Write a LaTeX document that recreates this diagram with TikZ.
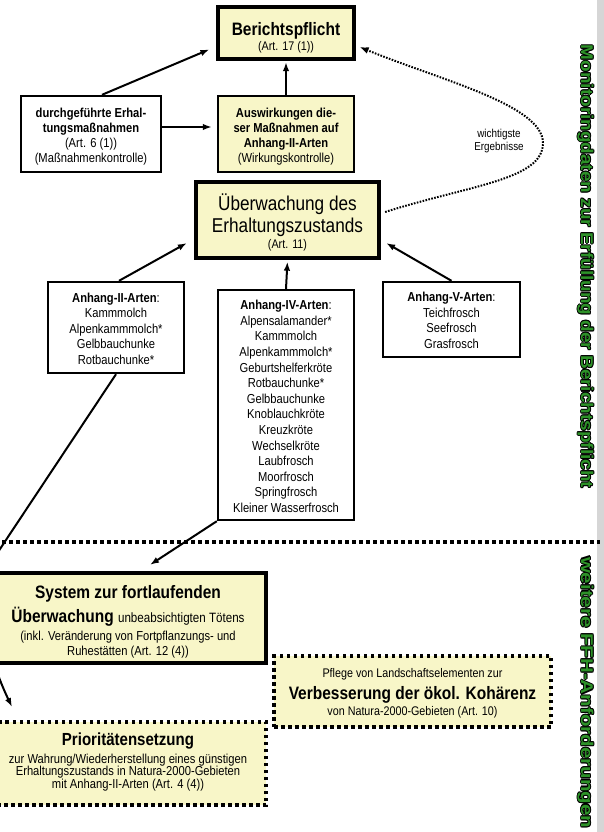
\documentclass[tikz,border=0pt]{standalone}
\usepackage{fontspec}
\usepackage{graphicx}
\setmainfont{Liberation Sans}[FakeStretch=0.86]
\newfontfamily\sidefont{Liberation Sans}
\usetikzlibrary{arrows.meta}
\definecolor{boxyellow}{RGB}{248,246,200}
\definecolor{sidegreen}{RGB}{45,145,40}
\definecolor{stripgrey}{RGB}{214,214,214}
\newcommand\fs[1]{\fontsize{#1}{0pt}\selectfont}
\newcommand\nodefont[1]{\fontsize{#1}{0pt}\selectfont\lineskiplimit=-1000pt\lineskip=0pt}
\newcommand\uph[1]{\rule{0pt}{#1}}
\newcommand\dnd[1]{\rule[-#1]{0pt}{#1}}
\newcommand\olcopy[3]{\makebox[0pt][l]{\kern#1\raisebox{#2}{\color{black}#3}}}
\newcommand\outlined[1]{%
  \olcopy{0.9pt}{0pt}{#1}\olcopy{-0.9pt}{0pt}{#1}\olcopy{0pt}{0.9pt}{#1}\olcopy{0pt}{-0.9pt}{#1}%
  \olcopy{0.64pt}{0.64pt}{#1}\olcopy{-0.64pt}{0.64pt}{#1}\olcopy{0.64pt}{-0.64pt}{#1}\olcopy{-0.64pt}{-0.64pt}{#1}%
  {\color{sidegreen}#1}}
\begin{document}
\begin{tikzpicture}[x=1pt,y=-1pt,
  box/.style={draw, line width=2.4pt, inner sep=0pt, align=center, font=\nodefont{13}},
  ybox/.style={box, fill=boxyellow},
  heavy/.style={line width=4.3pt},
  dotbox/.style={draw, line width=3.3pt, dash pattern=on 3.5pt off 3.5pt, fill=boxyellow, inner sep=0pt, align=center, font=\nodefont{12.5}},
  conn/.style={line width=2pt, -{Latex[length=9pt,width=6.5pt]}},
  dotconn/.style={line width=2pt, dash pattern=on 1.6pt off 1.4pt, -{Latex[length=9pt,width=7pt]}},
  sep/.style={line width=3.3pt, dash pattern=on 3.5pt off 3.5pt},
  sidetext/.style={rotate=-90, inner sep=0pt}
]
\useasboundingbox (0,0) rectangle (604,832);
\fill[white] (0,0) rectangle (604,832);
\clip (0,0) rectangle (604,832);
\fill[stripgrey] (597,0) rectangle (604,832);

% boxes
\node[ybox, line width=3.3pt, minimum width=136pt, minimum height=52pt] (ber) at (286,33)
  {\uph{22pt}\fs{18}\bfseries Berichtspflicht\\[15.3pt]\fs{12.5}(Art. 17 (1))};
\node[box, minimum width=140pt, minimum height=76pt] (dur) at (91,134)
  {\uph{15.5pt}\bfseries durchgeführte Erhal-\\[15pt]\bfseries tungsmaßnahmen\\[15pt](Art. 6 (1))\\[15pt](Maßnahmenkontrolle)};
\node[ybox, minimum width=136pt, minimum height=76pt] (aus) at (286,134)
  {\uph{15.5pt}\bfseries Auswirkungen die-\\[15pt]\bfseries ser Maßnahmen auf\\[15pt]\bfseries Anhang-II-Arten\\[15pt](Wirkungskontrolle)};
\node[ybox, heavy, minimum width=183pt, minimum height=76pt] (ueb) at (287.5,220)
  {\uph{21.5pt}\fs{20}Überwachung des\\[22pt]\fs{20}Erhaltungszustands\\[15.3pt]\fs{12.5}(Art. 11)};
\node[box, fill=white, minimum width=136pt, minimum height=91pt] (a2) at (116,327.5)
  {\uph{11.5pt}\textbf{Anhang-II-Arten}:\\[15.5pt]Kammmolch\\[15.5pt]Alpenkammmolch*\\[15.5pt]Gelbbauchunke\\[15.5pt]Rotbauchunke*};
\node[box, fill=white, minimum width=136pt, minimum height=230pt] (a4) at (286,405)
  {\uph{12.5pt}\textbf{Anhang-IV-Arten}:\\[15.6pt]Alpensalamander*\\[15.6pt]Kammmolch\\[15.6pt]Alpenkammmolch*\\[15.6pt]Geburtshelferkröte\\[15.6pt]Rotbauchunke*\\[15.6pt]Gelbbauchunke\\[15.6pt]Knoblauchkröte\\[15.6pt]Kreuzkröte\\[15.6pt]Wechselkröte\\[15.6pt]Laubfrosch\\[15.6pt]Moorfrosch\\[15.6pt]Springfrosch\\[15.6pt]Kleiner Wasserfrosch};
\node[box, fill=white, minimum width=137pt, minimum height=75pt] (a5) at (451.5,319.5)
  {\uph{11.5pt}\textbf{Anhang-V-Arten}:\\[15.5pt]Teichfrosch\\[15.5pt]Seefrosch\\[15.5pt]Grasfrosch};
\node[ybox, heavy, minimum width=276pt, minimum height=90pt] (sys) at (128,618)
  {\uph{21pt}\fs{18}\bfseries System zur fortlaufenden\\[23.3pt]\fs{18}\bfseries Überwachung {\fs{13.5}\mdseries unbeabsichtigten Tötens}\\[18.2pt]\fs{13}(inkl. Veränderung von Fortpflanzungs- und\\[15pt]\fs{13}Ruhestätten (Art. 12 (4))};
\node[dotbox, minimum width=277pt, minimum height=71pt] (verb) at (412.5,691.5)
  {\uph{12pt}Pflege von Landschaftselementen zur\\[21.8pt]\fs{18}\bfseries Verbesserung der ökol. Kohärenz\\[16.2pt]von Natura-2000-Gebieten (Art. 10)};
\node[dotbox, minimum width=276pt, minimum height=83pt] (prio) at (128,763.5)
  {\fs{17.5}\bfseries Prioritätensetzung\\[17.2pt]\fs{13}zur Wahrung/Wiederherstellung eines günstigen\\[12pt]\fs{13}Erhaltungszustands in Natura-2000-Gebieten\\[13pt]\fs{13}mit Anhang-II-Arten (Art. 4 (4))\dnd{5.8pt}};

% label on dotted curve
\node[align=center, inner sep=0pt, font=\nodefont{11.5}] (erg) at (499,141) {wichtigste\\[13pt]Ergebnisse};

% side texts
\node[sidetext] (side1) at (585.5,266.5)
  {\resizebox{443pt}{\height}{\sidefont\bfseries\fontsize{17}{17}\selectfont\outlined{Monitoringdaten zur Erfüllung der Berichtspflicht}}};
\node[sidetext] (side2) at (585.5,692.5)
  {\resizebox{271pt}{\height}{\sidefont\bfseries\fontsize{17}{17}\selectfont\outlined{weitere FFH-Anforderungen}}};

% separator
\coordinate (sepL) at (-5,542);
\coordinate (sepR) at (600,542);
\draw[sep] (sepL) -- (sepR);

% connectors
\draw[conn, shorten >=1pt] ([xshift=11pt]dur.north) -- ([xshift=-6pt,yshift=-16pt]ber.west);
\draw[conn, shorten >=5pt] ([yshift=7pt]dur.east) -- ([yshift=7pt]aus.west);
\draw[conn, shorten >=1.5pt] (aus.north) -- (ber.south);
\draw[conn] ([xshift=3pt]a2.north) -- ([xshift=-7pt,yshift=-23pt]ueb.west);
\draw[conn, shorten >=1.5pt] (a4.north) -- (ueb.south);
\draw[conn] (a5.north) -- ([xshift=5pt,yshift=-23pt]ueb.east);
\draw[dotconn] ([xshift=4pt,yshift=8pt]ueb.east) .. controls (470,185) and (543,180) .. (543,143)
  .. controls (543,105) and (440,80) .. ([xshift=4pt,yshift=-14pt]ber.east);
\coordinate (priotip) at (12,707);
\draw[conn] (a2.south) -- (-4,555) .. controls (-20,590) and (-20,640) .. (priotip);
\draw[conn] (a4.south west) -- ([xshift=22pt,yshift=6pt]sys.north);
\end{tikzpicture}
\end{document}
